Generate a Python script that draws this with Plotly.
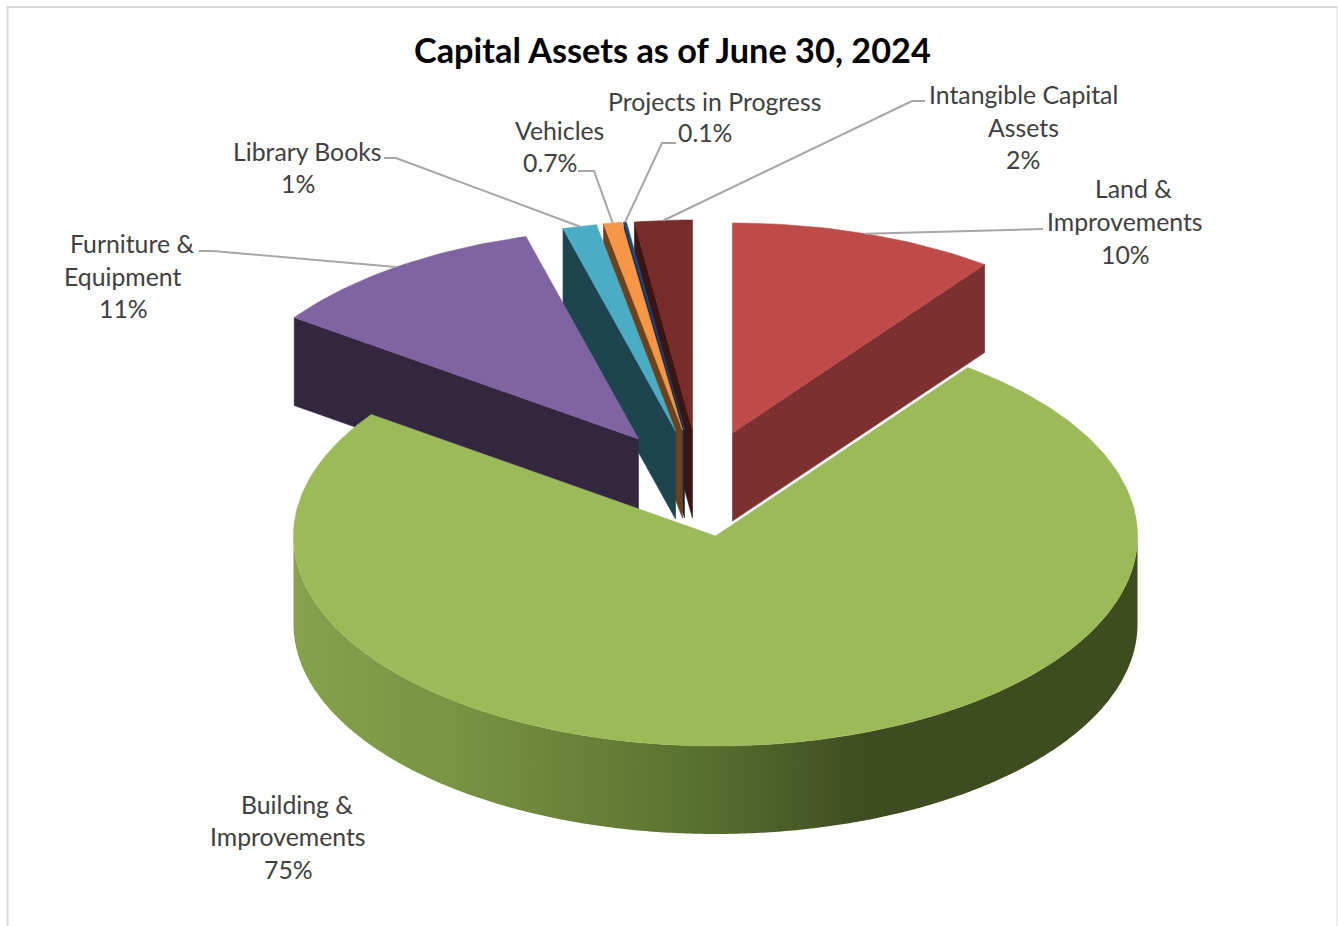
import math
import plotly.graph_objects as go

# Share of capital assets, in percent; the labels are formatted from these
categories = ["Land & Improvements", "Building & Improvements", "Furniture & Equipment",
              "Library Books", "Vehicles", "Projects in Progress", "Intangible Capital Assets"]
values = [10.2, 74.7, 10.9, 1.3, 0.7, 0.1, 2.2]

# Appearance of each slice: top face, cut-face colour, and apex after exploding
top_colors = ["#BE4B48", "#9BBB59", "#8064A2", "#4BACC6", "#F79646", "#1F497D", "#772C2A"]
wall_colors = ["#7C3130", "#3E4C20", "#33263F", "#1D444F", "#6B421C", "#10263F", "#3A1514"]
apex_x = [732.5, 715.5, 638.5, 675.5, 682.5, 684.5, 692.5]
apex_y = [433, 536, 439, 431, 430, 430, 430]

# Projected pie: horizontal and vertical radii and the thickness
RX, RY, DEPTH = 422, 210, 88

# Colour ramp along the outer rim of the large slice, by horizontal position
rim_x = [293, 450, 560, 700, 865, 1137]
rim_colors = ["#86A24C", "#789444", "#6C843A", "#58702F", "#3E4C20", "#3E4C20"]

# Label text placement: name lines, the centre of each line, vertical centres
label_lines = [["Land &", "Improvements"], ["Building &", "Improvements"], ["Furniture &", "Equipment"],
               ["Library Books"], ["Vehicles"], ["Projects in Progress"], ["Intangible Capital", "Assets"]]
label_cx = [[1133, 1125, 1125], [296.5, 288, 288], [132, 123, 123],
            [307.5, 298], [559, 550], [714.5, 705], [1023, 1023, 1023]]
label_cy = [[188, 221, 254], [804, 836, 869], [243, 276, 308],
            [151, 183], [130, 162], [101, 132], [94, 127, 159]]
# Where each leader leaves its label: the outer end and the elbow
leader_start = [(1043, 229), None, (199, 251), (384, 158), (578, 171), (676, 143), (925, 101)]
leader_elbow = [None, None, (213, 251), (396, 158), (594, 171), (662, 143), (912, 101)]

TITLE = "Capital Assets as of June 30, 2024"
FONT = "Lato, 'Open Sans', sans-serif"
W, H = 1338, 926

total = sum(values)
edges = [0.0]
for v in values:
    edges.append(edges[-1] + 360.0 * v / total)


def rim_point(i, deg, drop=0.0):
    a = math.radians(deg)
    return apex_x[i] + RX * math.sin(a), apex_y[i] - RY * math.cos(a) + drop


def arc(i, a0, a1, drop=0.0, step=1.0):
    n = max(2, int(abs(a1 - a0) / step) + 1)
    return [rim_point(i, a0 + (a1 - a0) * k / (n - 1), drop) for k in range(n)]


fig = go.Figure()


def poly(points, color, name):
    xs = [p[0] for p in points] + [points[0][0]]
    ys = [p[1] for p in points] + [points[0][1]]
    fig.add_trace(go.Scatter(x=xs, y=ys, mode="lines", fill="toself", fillcolor=color,
                             line=dict(color=color, width=0.6), hoverinfo="skip",
                             showlegend=False, name=name))


def draw_cut_face(i, deg):
    a = (apex_x[i], apex_y[i])
    r = rim_point(i, deg)
    poly([a, r, (r[0], r[1] + DEPTH), (a[0], a[1] + DEPTH)], wall_colors[i], categories[i])


# Painter's order: the thin slices at the back, then the larger ones in front
for i in [6, 5, 4, 3, 2]:
    draw_cut_face(i, edges[i])
    poly([(apex_x[i], apex_y[i])] + arc(i, edges[i], edges[i + 1]), top_colors[i], categories[i])

# Land slice shows its cut face on the far side of the sweep
draw_cut_face(0, edges[1])
poly([(apex_x[0], apex_y[0])] + arc(0, edges[0], edges[1]), top_colors[0], categories[0])

# Building slice: outer rim with a horizontal colour gradient, then the top face
b = 1
rim_pts = arc(b, 90, 270, step=0.5) + arc(b, 270, 90, drop=DEPTH, step=0.5)
span = rim_x[-1] - rim_x[0]
fig.add_trace(go.Scatter(
    x=[p[0] for p in rim_pts] + [rim_pts[0][0]],
    y=[p[1] for p in rim_pts] + [rim_pts[0][1]],
    mode="none", fill="toself", hoverinfo="skip", showlegend=False, name=categories[b],
    fillgradient=dict(type="horizontal", start=rim_x[0], stop=rim_x[-1],
                      colorscale=[[(x - rim_x[0]) / span, c] for x, c in zip(rim_x, rim_colors)]),
))
poly([(apex_x[b], apex_y[b])] + arc(b, edges[b], edges[b + 1]), top_colors[b], categories[b])

# Leader lines run from the label to the middle of the slice's outer edge
for i, start in enumerate(leader_start):
    if start is None:
        continue
    end = rim_point(i, (edges[i] + edges[i + 1]) / 2)
    pts = [start] + ([leader_elbow[i]] if leader_elbow[i] else []) + [end]
    fig.add_trace(go.Scatter(x=[p[0] for p in pts], y=[p[1] for p in pts], mode="lines",
                             line=dict(color="#A6A6A6", width=2), hoverinfo="skip", showlegend=False))

annotations = [dict(x=672, y=49, xref="x", yref="y", text=f"<b>{TITLE}</b>", showarrow=False,
                    xanchor="center", yanchor="middle",
                    font=dict(family=FONT, size=34.3, color="#000000"))]
for i, lines in enumerate(label_lines):
    pct = f"{values[i]:.0f}%" if values[i] >= 1 else f"{values[i]:.1f}%"
    for text, cx, cy in zip(lines + [pct], label_cx[i], label_cy[i]):
        annotations.append(dict(x=cx, y=cy, xref="x", yref="y", text=text, showarrow=False,
                                xanchor="center", yanchor="middle",
                                font=dict(family=FONT, size=24.8, color="#404040")))

frame = [
    dict(type="line", xref="x", yref="y", x0=7.5, x1=7.5, y0=6.5, y1=926, line=dict(color="#D9D9D9", width=2)),
    dict(type="line", xref="x", yref="y", x0=6.5, x1=1337, y0=7, y1=7, line=dict(color="#D9D9D9", width=2)),
    dict(type="line", xref="x", yref="y", x0=1337, x1=1337, y0=6.5, y1=926, line=dict(color="#D9D9D9", width=1)),
]

fig.update_layout(
    width=W, height=H, margin=dict(l=0, r=0, t=0, b=0),
    paper_bgcolor="white", plot_bgcolor="white", showlegend=False,
    xaxis=dict(range=[0, W], visible=False, fixedrange=True),
    yaxis=dict(range=[H, 0], visible=False, fixedrange=True),
    annotations=annotations, shapes=frame,
)
fig.write_html("out.html")
